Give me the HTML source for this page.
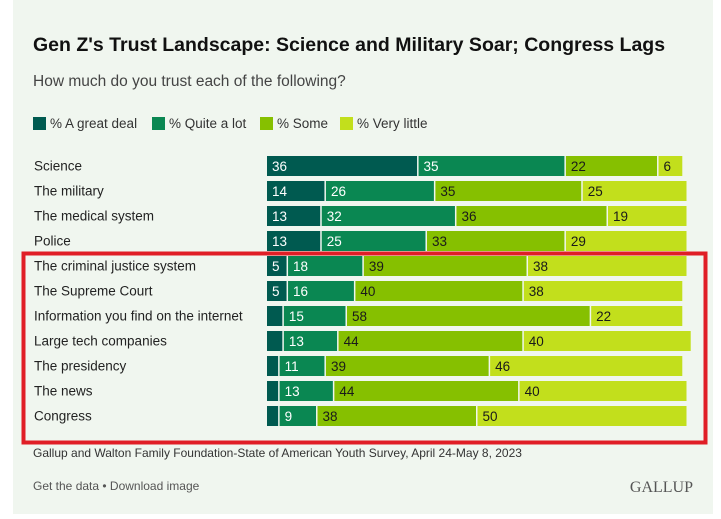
<!DOCTYPE html>
<html><head><meta charset="utf-8"><style>
body{margin:0;width:721px;height:514px;background:#fff;overflow:hidden;font-family:"Liberation Sans",Arial,sans-serif}
</style></head><body>
<svg width="721" height="514" xmlns="http://www.w3.org/2000/svg" font-family="Liberation Sans, Arial, sans-serif">
<rect x="13" y="0" width="700" height="514" fill="#f0f6ef"/>
<text x="33" y="51" font-size="19.5" font-weight="bold" fill="#111">Gen Z's Trust Landscape: Science and Military Soar; Congress Lags</text>
<text x="33" y="86" font-size="15.5" fill="#444">How much do you trust each of the following?</text>
<g id="legend"></g>
<g id="bars"></g>
<rect x="23.5" y="253.5" width="682" height="189" fill="none" stroke="#e01e26" stroke-width="4"/>
<text x="33" y="457" font-size="12" fill="#333">Gallup and Walton Family Foundation-State of American Youth Survey, April 24-May 8, 2023</text>
<text x="33" y="490" font-size="12" fill="#555">Get the data • Download image</text>
<text x="693" y="492" font-size="16" font-family="Liberation Serif, serif" fill="#555" text-anchor="end">GALLUP</text>
</svg>
<script>
const categories=["Science","The military","The medical system","Police","The criminal justice system","The Supreme Court","Information you find on the internet","Large tech companies","The presidency","The news","Congress"];
const greatDeal=[36,14,13,13,5,5,4,4,3,3,3];
const quiteALot=[35,26,32,25,18,16,15,13,11,13,9];
const some=[22,35,36,33,39,40,58,44,39,44,38];
const veryLittle=[6,25,19,29,38,38,22,40,46,40,50];
const showLabel=[true,true,true,true,true,true,false,false,false,false,false];
const seriesNames=["% A great deal","% Quite a lot","% Some","% Very little"];
const colors=["#005a50","#0a8752","#86c000","#c2df1c"];
const textColors=["#fff","#fff","#1a1a1a","#1a1a1a"];
const NS="http://www.w3.org/2000/svg";
const x0=267,scale=4.21,y0=156,step=25,bh=20;
const xs=v=>v*scale;
const ys=i=>y0+i*step;
const bars=document.getElementById('bars');
const series=[greatDeal,quiteALot,some,veryLittle];
categories.forEach((c,i)=>{
  const t=document.createElementNS(NS,'text');
  t.setAttribute('x',34);t.setAttribute('y',ys(i)+14.5);t.setAttribute('font-size','13.5');t.setAttribute('fill','#222');
  t.textContent=c;
  
  
  bars.appendChild(t);
  let x=x0;
  series.forEach((s,k)=>{
    const v=s[i];const w=xs(v);
    const r=document.createElementNS(NS,'rect');
    r.setAttribute('x',x);r.setAttribute('y',ys(i));r.setAttribute('width',Math.max(w-1.5,0.5));r.setAttribute('height',bh);r.setAttribute('fill',colors[k]);
    
    
    bars.appendChild(r);
    if(k>0||showLabel[i]){
      const l=document.createElementNS(NS,'text');
      l.setAttribute('x',x+5);l.setAttribute('y',ys(i)+15);l.setAttribute('font-size','13.5');l.setAttribute('fill',textColors[k]);
      l.textContent=v;
      
      
      bars.appendChild(l);
    }
    x+=w;
  });
});
const lg=document.getElementById('legend');
const lx=[33,152,260,340];
seriesNames.forEach((n,k)=>{
  const r=document.createElementNS(NS,'rect');
  r.setAttribute('x',lx[k]);r.setAttribute('y',117);r.setAttribute('width',13);r.setAttribute('height',13);r.setAttribute('fill',colors[k]);
  
  
  lg.appendChild(r);
  const t=document.createElementNS(NS,'text');
  t.setAttribute('x',lx[k]+17);t.setAttribute('y',128);t.setAttribute('font-size','13.5');t.setAttribute('fill','#333');
  t.textContent=n;
  
  
  lg.appendChild(t);
});
</script>
</body></html>
